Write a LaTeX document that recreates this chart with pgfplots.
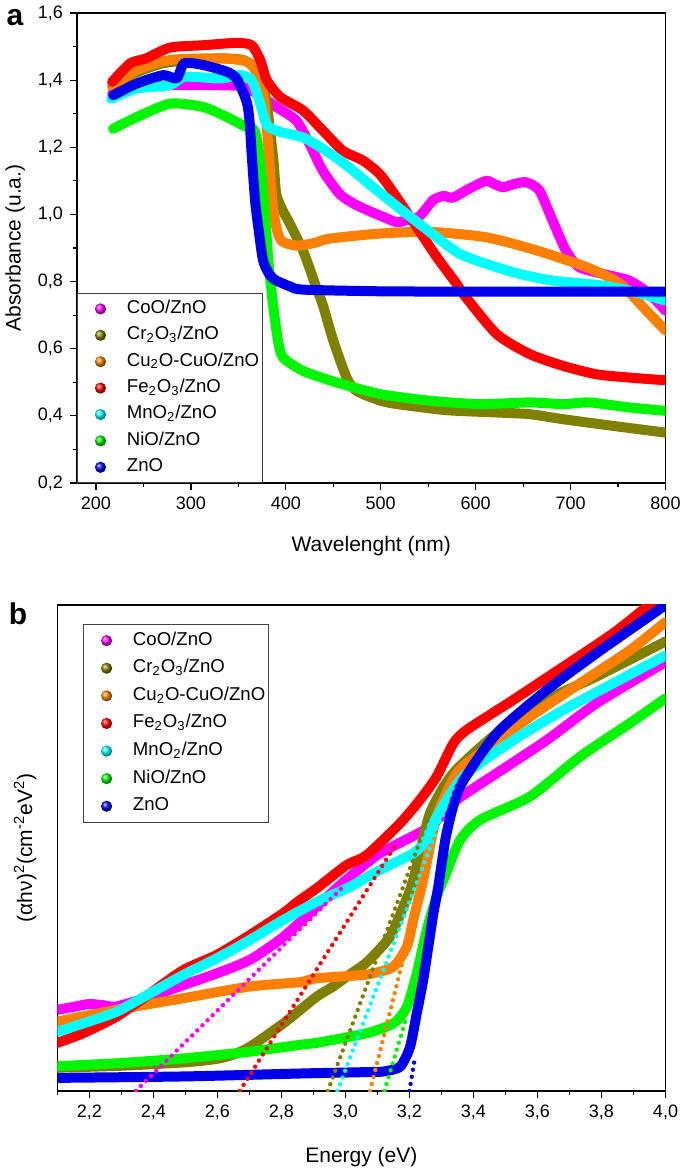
\documentclass[border=0pt]{standalone}
\usepackage{fontspec}
\setmainfont{Liberation Sans}
\usepackage{pgfplots}
\pgfplotsset{compat=1.18}
\definecolor{cCo}{RGB}{255,0,255}
\definecolor{cCr}{RGB}{128,128,0}
\definecolor{cCu}{RGB}{255,128,0}
\definecolor{cFe}{RGB}{255,0,0}
\definecolor{cMn}{RGB}{0,255,255}
\definecolor{cNi}{RGB}{0,245,0}
\definecolor{cZn}{RGB}{0,0,235}
\pgfplotsset{
  chart/.style={
    scale only axis, anchor=south west,
    axis line style={line width=0.7pt},
    every tick/.style={black, line width=0.6pt},
    tick align=outside, tick pos=left,
    major tick length=3.5pt, minor tick length=2pt,
    tick label style={font=\fontsize{9}{10}\selectfont},
    label style={font=\fontsize{10.5}{12}\selectfont},
    /pgf/number format/assume math mode=true,
    legend cell align=left,
    legend style={draw=black!75, line width=0.5pt, fill=white,
      font=\fontsize{9.3}{11}\selectfont,
      inner xsep=1pt, inner ysep=1pt, row sep=0pt,
      nodes={inner ysep=2pt, inner xsep=0.8pt, text height=6.8pt, text depth=2.4pt, anchor=west},
      /tikz/every odd column/.append style={column sep=9.6pt}},
  },
  dl/.style={#1, line width=5pt, line join=round, line cap=round, smooth, tension=0.4,
    legend image code/.code={\path[draw=none,fill=none] (-10.5pt,0) -- (0pt,0pt);
      \shade[draw=none, ball color=#1] (0pt,0pt) circle (2.8pt);}},
  fit/.style={#1, line width=2.2pt, line cap=round, dash pattern=on 0pt off 3.6pt, forget plot},
}
\begin{document}
\begin{tikzpicture}
\useasboundingbox (0,0) rectangle (342.5pt,587pt);
% ---------------- panel a ----------------
\begin{axis}[chart,
  at={(38.5pt,345.5pt)}, width=294.25pt, height=235pt,
  xmin=180, xmax=800, ymin=0.2, ymax=1.6,
  xtick={200,300,...,800}, minor x tick num=1,
  ytick={0.2,0.4,...,1.6}, minor y tick num=1,
  yticklabel style={/pgf/number format/.cd, fixed, fixed zerofill, precision=1, use comma},
  xlabel={Wavelenght (nm)}, ylabel={Absorbance (u.a.)},
  xlabel style={at={(axis description cs:0.5,-0.135)}, anchor=center},
  ylabel style={at={(axis description cs:-0.105,0.5)}, anchor=center},
  legend style={at={(0,0)}, anchor=south west},
]
\addplot[dl=cCo] coordinates {
(217,1.36) (230,1.37) (250,1.38) (280,1.385) (320,1.385) (350,1.383) (363,1.37)
(375,1.35) (390,1.32) (411,1.28) (425,1.21) (439,1.13) (457,1.06) (473,1.03)
(488,1.01) (505,0.99) (517,0.977) (530,0.985) (541,0.995) (555,1.042) (566,1.055)
(576,1.05) (592,1.075) (611,1.10) (620,1.09) (629,1.081) (640,1.09) (653,1.096)
(667,1.072) (681,0.982) (695,0.893) (709,0.843) (734,0.823) (762,0.803) (783,0.763) (800,0.713)};
\addlegendentry{CoO/ZnO}
\addplot[dl=cCr] coordinates {
(217,1.385) (240,1.42) (270,1.45) (300,1.46) (331,1.465) (355,1.46) (369,1.435)
(376,1.38) (380,1.33) (383,1.26) (387,1.16) (390,1.06) (397,1.01) (401,0.99)
(410,0.94) (418,0.893) (425,0.84) (432,0.783) (439,0.73) (450,0.624) (464,0.514)
(472,0.48) (481,0.465) (500,0.445) (517,0.435) (569,0.417) (622,0.41) (657,0.405)
(692,0.39) (745,0.37) (800,0.35)};
\addlegendentry{Cr\textsubscript{2}O\textsubscript{3}/ZnO}
\addplot[dl=cCu] coordinates {
(217,1.38) (243,1.43) (278,1.46) (331,1.465) (359,1.455) (370,1.42) (376,1.36)
(380,1.26) (384,1.10) (387,1.01) (391,0.95) (396,0.92) (411,0.907) (430,0.915)
(446,0.928) (499,0.943) (552,0.948) (611,0.932) (664,0.893) (717,0.843) (752,0.794)
(780,0.713) (800,0.654)};
\addlegendentry{Cu\textsubscript{2}O-CuO/ZnO}
\addplot[dl=cFe] coordinates {
(217,1.395) (236,1.45) (253,1.465) (278,1.497) (313,1.504) (348,1.511) (364,1.504)
(373,1.46) (380,1.40) (394,1.35) (418,1.31) (439,1.25) (460,1.19) (481,1.161)
(499,1.12) (517,1.05) (538,0.962) (559,0.873) (580,0.793) (587,0.763) (622,0.644)
(657,0.584) (692,0.549) (727,0.524) (762,0.514) (800,0.506)};
\addlegendentry{Fe\textsubscript{2}O\textsubscript{3}/ZnO}
\addplot[dl=cMn] coordinates {
(216,1.345) (243,1.375) (278,1.385) (293,1.41) (331,1.405) (352,1.415) (364,1.40)
(373,1.33) (380,1.266) (394,1.246) (421,1.226) (457,1.161) (492,1.081) (527,1.002)
(559,0.932) (583,0.883) (611,0.853) (646,0.823) (681,0.803) (734,0.788) (769,0.768) (800,0.743)};
\addlegendentry{MnO\textsubscript{2}/ZnO}
\addplot[dl=cNi] coordinates {
(218,1.255) (243,1.29) (278,1.33) (313,1.32) (338,1.29) (355,1.265) (367,1.25)
(373,1.16) (378,1.00) (382,0.85) (387,0.72) (392,0.62) (397,0.574) (418,0.534)
(453,0.50) (499,0.465) (552,0.445) (604,0.435) (657,0.44) (692,0.435) (720,0.44)
(762,0.425) (800,0.415)};
\addlegendentry{NiO/ZnO}
\addplot[dl=cZn] coordinates {
(218,1.355) (243,1.39) (271,1.415) (285,1.405) (293,1.45) (313,1.445) (338,1.425)
(348,1.405) (357,1.35) (360,1.32) (362,1.27) (364,1.18) (366,1.10) (368,1.03)
(371,0.962) (376,0.863) (383,0.82) (390,0.803) (405,0.785) (418,0.776) (500,0.771)
(600,0.770) (700,0.770) (800,0.770)};
\addlegendentry{ZnO}
\end{axis}
\node[font=\fontsize{15}{16}\selectfont\bfseries] at (7.5pt,578pt) {a};
% ---------------- panel b ----------------
\begin{axis}[chart,
  at={(28.65pt,41.5pt)}, width=304.1pt, height=243pt,
  xmin=2.1, xmax=4.0, ymin=0, ymax=100,
  xtick={2.2,2.4,...,4.01}, minor xtick={2.1,2.3,...,3.95},
  ytick=\empty,
  xticklabel style={/pgf/number format/.cd, fixed, fixed zerofill, precision=1, use comma},
  xlabel={Energy (eV)},
  ylabel={(αhν)\textsuperscript{2}(cm\textsuperscript{-2}eV\textsuperscript{2})},
  xlabel style={at={(axis description cs:0.5,-0.135)}, anchor=center},
  ylabel style={at={(axis description cs:-0.053,0.5)}, anchor=center},
  legend style={at={(axis description cs:0.0424,0.961)}, anchor=north west, row sep=0.6pt, inner ysep=1.5pt},
]
\addplot[dl=cCo] coordinates {
(2.10,16.7) (2.15,17.3) (2.20,17.9) (2.25,17.6) (2.285,17.4) (2.39,19.4) (2.494,21.8)
(2.598,24.2) (2.702,27.0) (2.806,31.7) (2.91,37.9) (2.952,40.5) (3.014,44.1) (3.108,48.9)
(3.264,54.4) (3.348,59.9) (3.473,65.4) (3.629,72.2) (3.785,79.8) (3.993,88.0) (4.0,88.3)};
\addlegendentry{CoO/ZnO}
\addplot[dl=cCr] coordinates {
(2.10,4.8) (2.30,5.2) (2.50,5.9) (2.598,6.6) (2.65,7.5) (2.702,9.1) (2.806,13.9)
(2.91,19.4) (2.962,21.5) (3.014,24.0) (3.067,26.5) (3.139,31.7) (3.181,37.9) (3.212,43.4)
(3.264,57.1) (3.337,65.4) (3.473,73.6) (3.629,80.5) (3.785,85.3) (4.0,92.5)};
\addlegendentry{Cr\textsubscript{2}O\textsubscript{3}/ZnO}
\addplot[dl=cCu] coordinates {
(2.10,14.3) (2.285,16.7) (2.494,19.1) (2.702,21.5) (2.858,22.4) (2.91,23.2) (3.07,24.0)
(3.15,25.6) (3.192,29.7) (3.212,35.2) (3.233,40.7) (3.243,43.4) (3.285,56.4) (3.348,65.4)
(3.421,69.5) (3.577,77.0) (3.733,83.9) (3.889,90.7) (4.0,96.5)};
\addlegendentry{Cu\textsubscript{2}O-CuO/ZnO}
\addplot[dl=cFe] coordinates {
(2.10,9.9) (2.181,11.9) (2.285,15.3) (2.39,20.1) (2.494,24.9) (2.598,28.0) (2.702,32.1)
(2.806,36.6) (2.848,38.8) (2.91,41.7) (3.004,46.5) (3.066,48.5) (3.171,55.1) (3.233,59.9)
(3.285,64.7) (3.337,71.5) (3.379,74.3) (3.525,80.5) (3.681,87.3) (3.837,94.2) (3.941,99.6) (3.97,101)};
\addlegendentry{Fe\textsubscript{2}O\textsubscript{3}/ZnO}
\addplot[dl=cMn] coordinates {
(2.10,12.2) (2.181,13.9) (2.285,16.3) (2.39,20.1) (2.494,23.9) (2.598,27.3) (2.702,31.1)
(2.806,35.2) (2.91,38.9) (3.014,42.0) (3.108,45.5) (3.212,48.9) (3.25,51.5) (3.285,56.4)
(3.368,64.7) (3.525,72.2) (3.681,78.4) (3.837,83.9) (4.0,89.6)};
\addlegendentry{MnO\textsubscript{2}/ZnO}
\addplot[dl=cNi] coordinates {
(2.10,5.1) (2.285,5.7) (2.494,6.7) (2.702,8.1) (2.858,9.5) (2.91,9.9) (3.067,11.9)
(3.15,13.9) (3.192,17.3) (3.223,24.2) (3.254,33.1) (3.285,40.0) (3.306,43.4) (3.358,51.6)
(3.421,55.8) (3.577,60.6) (3.733,68.8) (3.889,75.7) (4.0,80.8)};
\addlegendentry{NiO/ZnO}
\addplot[dl=cZn] coordinates {
(2.10,2.7) (2.50,3.0) (2.858,3.6) (3.077,3.9) (3.118,4.0) (3.171,5.0) (3.202,9.1)
(3.223,16.0) (3.243,22.8) (3.259,29.7) (3.275,36.6) (3.29,42.0) (3.316,53.0) (3.358,62.6)
(3.473,73.6) (3.629,82.5) (3.785,90.1) (3.889,94.9) (4.0,100)};
\addlegendentry{ZnO}
% linear fits (Tauc extrapolations)
\addplot[fit=cCo] coordinates {(2.345,0) (3.00,42.5)};
\addplot[fit=cFe] coordinates {(2.67,0) (3.16,51)};
\addplot[fit=cCr] coordinates {(2.945,0) (3.27,58)};
\addplot[fit=cMn] coordinates {(2.975,0) (3.345,64)};
\addplot[fit=cCu] coordinates {(3.077,0) (3.18,27)};
\addplot[fit=cNi] coordinates {(3.122,0) (3.19,15)};
\addplot[fit=cZn] coordinates {(3.20,0) (3.215,6)};
\end{axis}
\node[font=\fontsize{15}{16}\selectfont\bfseries] at (9pt,280pt) {b};
\end{tikzpicture}
\end{document}
